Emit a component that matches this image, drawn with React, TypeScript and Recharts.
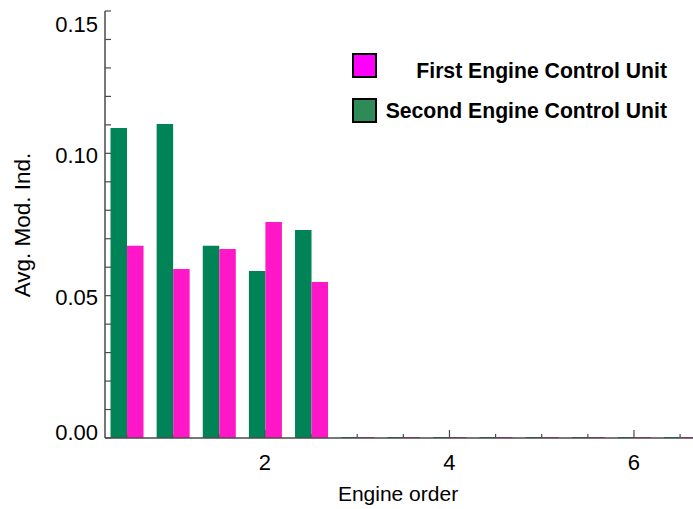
import { BarChart, Bar, XAxis, YAxis, Legend } from 'recharts';

const engineOrder = [0.5, 1, 1.5, 2, 2.5, 3, 3.5, 4, 4.5, 5, 5.5, 6, 6.5];
const firstUnit = [0.0675, 0.0594, 0.0664, 0.0759, 0.0548, 0, 0, 0, 0, 0, 0, 0, 0];
const secondUnit = [0.1089, 0.1103, 0.0675, 0.0587, 0.0731, 0, 0, 0, 0, 0, 0, 0, 0];

const xTicks = [0.5, 1, 1.5, 2, 2.5, 3, 3.5, 4, 4.5, 5, 5.5, 6, 6.5];
const xLabels = [2, 4, 6];
const yTicks = [0, 0.01, 0.02, 0.03, 0.04, 0.05, 0.06, 0.07, 0.08, 0.09, 0.1, 0.11, 0.12, 0.13, 0.14, 0.15];
const yLabels = [0, 0.05, 0.1, 0.15];

const data = engineOrder.map((order, i) => ({
  order,
  first: firstUnit[i],
  second: secondUnit[i],
}));

const FONT = '"Liberation Sans", Arial, Helvetica, sans-serif';
const AXIS = '#4a4a4a';
const GREEN = '#008356';
const MAGENTA = '#ff17c8';

const isLabel = (list: number[], v: number) => list.some((l) => Math.abs(l - v) < 1e-9);

const BottomTick = (props: any) => {
  const { x, y, payload } = props;
  const major = isLabel(xLabels, payload.value);
  return (
    <g>
      <line x1={x} x2={x} y1={y} y2={y - (major ? 8 : 4)} stroke={AXIS} strokeWidth={1.2} />
      {major && (
        <text x={x} y={y + 32} textAnchor="middle" fontSize={22} fontFamily={FONT} fill="#000">
          {payload.value}
        </text>
      )}
    </g>
  );
};

const TopTick = (props: any) => {
  const { x, y, payload } = props;
  const major = isLabel(xLabels, payload.value);
  return <line x1={x} x2={x} y1={y} y2={y + (major ? 8 : 4)} stroke={AXIS} strokeWidth={1.2} />;
};

const LeftTick = (props: any) => {
  const { x, y, payload } = props;
  const v = payload.value;
  const major = isLabel(yLabels, v);
  let dy = 2;
  if (Math.abs(v) < 1e-9) dy = -6;
  if (Math.abs(v - 0.15) < 1e-9) dy = 13;
  return (
    <g>
      <line x1={x} x2={x + 6} y1={y} y2={y} stroke={AXIS} strokeWidth={1.2} />
      {major && (
        <text
          x={x - 7}
          y={y + dy}
          textAnchor="end"
          dominantBaseline="central"
          fontSize={22}
          fontFamily={FONT}
          fill="#000"
        >
          {v.toFixed(2)}
        </text>
      )}
    </g>
  );
};

const RightTick = (props: any) => {
  const { x, y, payload } = props;
  if (!isLabel(yLabels, payload.value)) return <g />;
  return <line x1={x} x2={x - 5} y1={y} y2={y} stroke={AXIS} strokeWidth={1.2} />;
};

const legendItems = [
  { name: 'First Engine Control Unit', color: '#ff00ff', box: 54, base: 78 },
  { name: 'Second Engine Control Unit', color: '#2e8b57', box: 99, base: 118 },
];

const ChartLegend = () => (
  <svg width={693} height={140} style={{ display: 'block' }}>
    {legendItems.map((item) => (
      <g key={item.name}>
        <rect x={353} y={item.box} width={23} height={23} fill={item.color} stroke="#000" strokeWidth={2} />
        <text
          x={667}
          y={item.base}
          textAnchor="end"
          fontSize={21.2}
          fontWeight="bold"
          fontFamily={FONT}
          fill="#000"
        >
          {item.name}
        </text>
      </g>
    ))}
  </svg>
);

export default function App() {
  return (
    <div
      style={{
        position: 'absolute',
        left: 0,
        top: 0,
        width: 693,
        height: 509,
        overflow: 'hidden',
        background: '#fff',
      }}
    >
      <BarChart
        width={693}
        height={509}
        data={data}
        margin={{ top: 11, right: 0, bottom: 0, left: 0 }}
        barGap={0}
        barSize={16.5}
      >
        <XAxis
          dataKey="order"
          type="number"
          domain={[0.266, 6.64]}
          allowDataOverflow
          ticks={xTicks}
          interval={0}
          height={71}
          tickSize={0}
          tickMargin={0}
          tickLine={false}
          axisLine={{ stroke: AXIS, strokeWidth: 1.5 }}
          tick={<BottomTick />}
          label={() => (
            <text x={398} y={493} textAnchor="middle" dominantBaseline="central" fontSize={21} fontFamily={FONT} fill="#000">
              Engine order
            </text>
          )}
        />
        <XAxis
          xAxisId="top"
          orientation="top"
          dataKey="order"
          type="number"
          domain={[0.266, 6.64]}
          allowDataOverflow
          ticks={xTicks}
          interval={0}
          height={0}
          tickSize={0}
          tickMargin={0}
          tickLine={false}
          axisLine={{ stroke: AXIS, strokeWidth: 1.5 }}
          tick={<TopTick />}
        />
        <YAxis
          type="number"
          domain={[0, 0.15]}
          allowDataOverflow
          ticks={yTicks}
          interval={0}
          width={105}
          tickSize={0}
          tickMargin={0}
          tickLine={false}
          axisLine={{ stroke: AXIS, strokeWidth: 1.5 }}
          tick={<LeftTick />}
          label={() => (
            <text
              x={0}
              y={0}
              transform="translate(22,225) rotate(-90)"
              textAnchor="middle"
              dominantBaseline="central"
              fontSize={22.5}
              fontFamily={FONT}
              fill="#000"
            >
              Avg. Mod. Ind.
            </text>
          )}
        />
        <YAxis
          yAxisId="right"
          orientation="right"
          type="number"
          domain={[0, 0.15]}
          allowDataOverflow
          ticks={yTicks}
          interval={0}
          width={0}
          tickSize={0}
          tickMargin={0}
          tickLine={false}
          axisLine={{ stroke: AXIS, strokeWidth: 1.5 }}
          tick={<RightTick />}
        />
        <Legend
          layout="horizontal"
          verticalAlign="middle"
          align="center"
          wrapperStyle={{ top: 0, left: 0, width: 693, height: 140, pointerEvents: 'none' }}
          content={() => <ChartLegend />}
        />
        <Bar dataKey="second" name="Second Engine Control Unit" fill={GREEN} minPointSize={1} isAnimationActive={false} />
        <Bar dataKey="first" name="First Engine Control Unit" fill={MAGENTA} minPointSize={1} isAnimationActive={false} />
      </BarChart>
    </div>
  );
}
